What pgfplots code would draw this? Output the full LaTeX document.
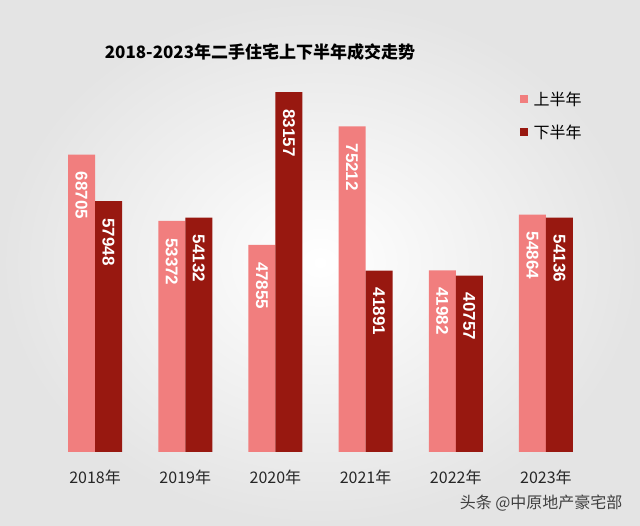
\documentclass[border=0pt]{standalone}
\usepackage{pgfplots}
\pgfplotsset{compat=1.18}
\usepackage{fontspec}
\setmainfont{Liberation Sans}
\newfontfamily\cjk{Noto Sans CJK SC}
\definecolor{lightbar}{RGB}{241,126,126}
\definecolor{darkbar}{RGB}{152,24,16}
\definecolor{bgedge}{RGB}{228,228,228}
\begin{document}
\begin{tikzpicture}[x=1pt,y=1pt]
\useasboundingbox (0,0) rectangle (640,525);
\shade[inner color=white, outer color=bgedge] (0,0) rectangle (640,525);
\node[font=\cjk\bfseries\fontsize{17}{20}\selectfont, text=black] at (260,473) {2018-2023年二手住宅上下半年成交走势};
\node[font=\cjk\fontsize{16}{18}\selectfont, text=black!75, anchor=east] at (626,22) {头条 @中原地产豪宅部};
\begin{axis}[
  at={(50pt,73pt)}, anchor=south west, scale only axis,
  width=541pt, height=389.6pt,
  ymin=0, ymax=90000, xmin=-0.5, xmax=5.5,
  ybar=0pt, bar width=27pt,
  axis line style={draw=none}, major tick length=0pt,
  ytick=\empty, xtick={0,1,2,3,4,5},
  xticklabels={2018年,2019年,2020年,2021年,2022年,2023年},
  xticklabel style={font=\cjk\fontsize{16}{18}\selectfont, text=black!85, yshift=-14pt},
  nodes near coords,
  every node near coord/.append style={font=\bfseries\fontsize{17}{17}\selectfont, text=white, rotate=-90, anchor=west, inner xsep=17pt},
  legend style={draw=none, fill=none, at={(0.862,0.935)}, anchor=north west, font=\cjk\fontsize{16}{18}\selectfont, row sep=14pt, /tikz/every even column/.append style={column sep=0pt}, nodes={inner xsep=6pt}},
  legend cell align=left,
  legend image code/.code={\fill[#1] (0pt,-4pt) rectangle (8pt,4pt);},
]
\addplot[fill=lightbar, draw=none, bar shift=-13.5pt, point meta=explicit symbolic] coordinates {
 (0,68705)[68705] (1,53372)[53372] (2,47855)[47855] (3,75212)[75212] (4,41982)[41982] (5,54864)[54864]};
\addlegendentry{上半年}
\addplot[fill=darkbar, draw=none, bar shift=13.5pt, point meta=explicit symbolic] coordinates {
 (0,57948)[57948] (1,54132)[54132] (2,83157)[83157] (3,41891)[41891] (4,40757)[40757] (5,54136)[54136]};
\addlegendentry{下半年}
\end{axis}
\end{tikzpicture}
\end{document}
